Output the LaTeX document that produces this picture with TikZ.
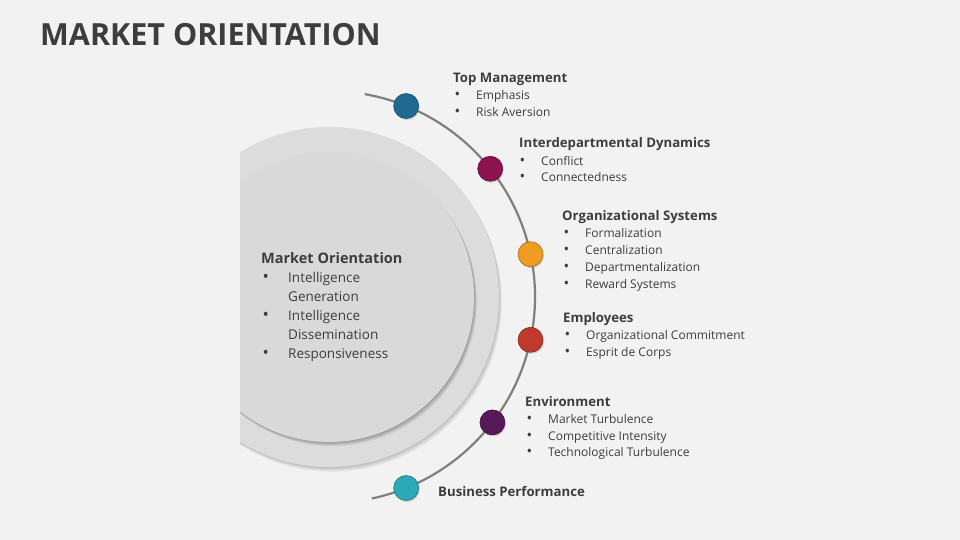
\documentclass[tikz,border=0pt]{standalone}
\usepackage{fontspec}
\setmainfont{Open Sans}
\usetikzlibrary{positioning,shadows}

\definecolor{bgc}{HTML}{F2F2F2}
\definecolor{txt}{HTML}{3D3D3D}
\definecolor{disc}{HTML}{DCDCDC}
\definecolor{discin}{HTML}{D9D9D9}
\definecolor{arcc}{HTML}{7F7F7F}
\definecolor{cblue}{HTML}{1F6A8E}
\definecolor{cmag}{HTML}{8E1250}
\definecolor{corange}{HTML}{F09B22}
\definecolor{cred}{HTML}{BF3A2C}
\definecolor{cpurple}{HTML}{57195A}
\definecolor{cteal}{HTML}{2AA9B6}

\newcommand{\bul}[1][23pt]{\makebox[#1][l]{\hspace{1.5pt}\scalebox{1.25}{\textbullet}}}

\begin{document}
\begin{tikzpicture}[x=1pt, y=-1pt,
  maintitle/.style={anchor=base west, inner sep=0pt, text=txt, font=\bfseries\fontsize{30.5}{36}\selectfont},
  hd/.style={anchor=base west, inner sep=0pt, text=txt, font=\bfseries\fontsize{13.2}{16}\selectfont},
  entry/.style={anchor=base west, inner sep=0pt, text=txt, font=\fontsize{12}{14}\selectfont},
  bighd/.style={hd, font=\bfseries\fontsize{14.5}{17}\selectfont},
  bigentry/.style={entry, font=\fontsize{13.5}{16}\selectfont},
  knob/.style={circle, minimum size=25pt, inner sep=0pt, fill=#1, draw=#1!70!black, line width=0.6pt,
    drop shadow={opacity=.3, shadow xshift=1pt, shadow yshift=-1.5pt}}]

\useasboundingbox (0,0) rectangle (960,540);
\fill[bgc] (0,0) rectangle (960,540);

\node[maintitle] (ttl) at (40,46) {MARKET ORIENTATION};

% half discs
\coordinate (o) at (329,297);
\begin{scope}
  \clip (240,0) rectangle (960,540);
  \foreach \k in {1,...,6}
    \fill[black, opacity=0.035] ([shift={(0.5*\k,0.8*\k)}]o) circle (170);
  \fill[disc] (o) circle (170);
  \foreach \k in {1,...,6}
    \fill[black, opacity=0.05] ([shift={(0.5*\k,0.7*\k)}]o) circle (145);
  \fill[discin] (o) circle (145);
\end{scope}

% the arc and its knobs
\draw[arcc, line width=2.2pt] ([shift={(-80:206)}]o) arc[start angle=-80, end angle=78, radius=206];
\foreach \a/\c/\n in {-68/cblue/k1, -38.5/cmag/k2, -12/corange/k3, 12/cred/k4, 37.5/cpurple/k5, 68/cteal/k6}
  \node[knob=\c] (\n) at ([shift={(\a:206)}]o) {};

% centre text
\node[bighd] (mo) at (261,263) {Market Orientation};
\foreach \t [count=\i] in {\bul[27pt]Intelligence, \hspace{27pt}Generation, \bul[27pt]Intelligence,
    \hspace{27pt}Dissemination, \bul[27pt]Responsiveness}
  \node[bigentry] (mo\i) at (261,263+19*\i) {\t};

% blocks along the arc
\node[hd] (tm) at (453,83) {Top Management};
\foreach \t [count=\i] in {Emphasis, Risk Aversion}
  \node[entry] (tm\i) at (453,83+17*\i) {\bul\t};

\node[hd] (idd) at (519,148) {Interdepartmental Dynamics};
\foreach \t [count=\i] in {Conflict, Connectedness}
  \node[entry] (idd\i) at (518,148+17*\i) {\bul\t};

\node[hd] (os) at (562,220) {Organizational Systems};
\foreach \t [count=\i] in {Formalization, Centralization, Departmentalization, Reward Systems}
  \node[entry] (os\i) at (562,220+17*\i) {\bul\t};

\node[hd] (emp) at (563,322.7) {Employees};
\foreach \t [count=\i] in {Organizational Commitment, Esprit de Corps}
  \node[entry] (emp\i) at (563,322.7+16.7*\i) {\bul\t};

\node[hd] (env) at (525,406.7) {Environment};
\foreach \t [count=\i] in {Market Turbulence, Competitive Intensity, Technological Turbulence}
  \node[entry] (env\i) at (525,406.7+16.7*\i) {\bul\t};

\node[hd] (bp) at (438,496) {Business Performance};
\end{tikzpicture}
\end{document}
